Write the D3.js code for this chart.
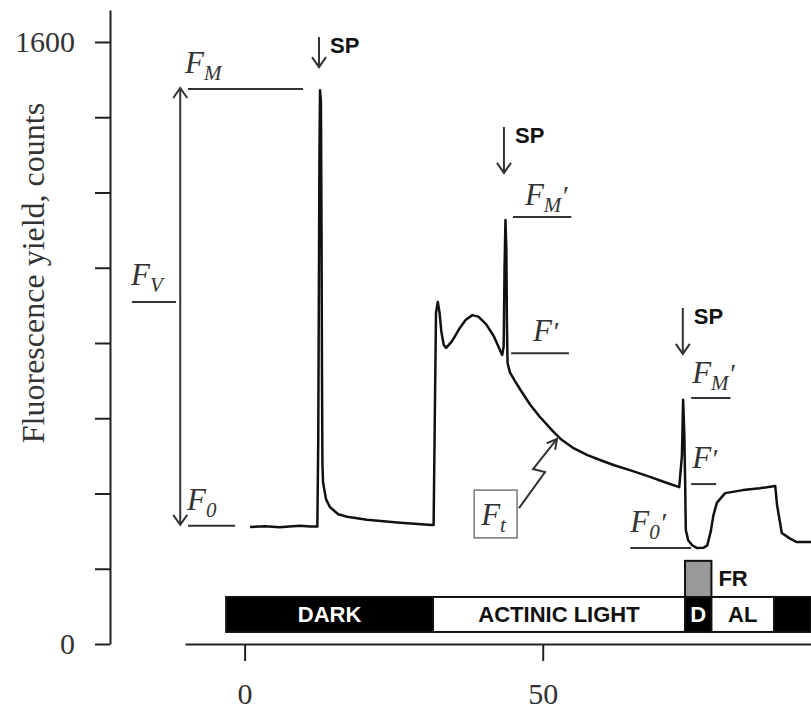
<!DOCTYPE html>
<meta charset="utf-8">
<style>
body { margin: 0; background: #fff; }
.axis path, .axis line { stroke: #222; stroke-width: 2px; }
.axis text { font-family: "Liberation Serif", serif; font-size: 30px; fill: #333; }
.ylab { font-family: "Liberation Serif", serif; font-size: 32px; fill: #333; }
.trace { fill: none; stroke: #111; stroke-width: 2.5px; stroke-linejoin: round; }
.ann line, .ann path { stroke: #333; stroke-width: 2px; fill: none; }
.flab { font-family: "Liberation Serif", serif; font-style: italic; font-size: 31px; fill: #333; }
.sp { font-family: "Liberation Sans", Arial, sans-serif; font-weight: bold; font-size: 22px; fill: #111; }
.bar rect { stroke: #111; stroke-width: 2px; }
.bar text { font-family: "Liberation Sans", Arial, sans-serif; font-weight: bold; font-size: 22px; }
</style>
<svg width="811" height="711"></svg>
<script src="https://d3js.org/d3.v7.min.js"></script>
<script>

// fluorescence trace, time (s) and yield (counts)
var time = [0.9, 3.4, 5.9, 7.5, 9.3, 11.0, 12.2,
  12.35, 12.55, 12.65, 12.8, 12.9, 12.98, 13.05, 13.15, 13.65, 14.3, 15.7, 17.2, 20.5, 26.1, 31.4,
  31.7, 31.9, 32.1, 32.4, 32.7, 33.0, 33.4, 33.8, 34.8, 36.1, 37.1, 38.2, 39.2, 40.5, 41.8, 43.2,
  43.45, 43.6, 43.75, 43.9, 44.0, 44.1, 44.5, 45.3, 46.2, 47.9, 49.5, 51.7, 53.0, 55.0, 57.5, 59.6,
  62.0, 65.0, 68.0, 70.5, 72.9,
  73.35, 73.55, 73.75, 73.9, 74.0, 74.4, 75.1, 75.9, 77.0, 77.6, 78.2, 78.6, 79.2, 80.6, 83.6, 86.4,
  89.0, 89.3, 90.1, 91.5, 92.6, 95.0];
var yieldCounts = [311, 313, 310, 312, 314, 312, 312,
  542, 1300, 1472, 1440, 1100, 700, 480, 430, 385, 364, 345, 338, 330, 322, 316,
  316, 600, 880, 909, 880, 830, 795, 787, 805, 840, 862, 874, 870, 850, 818, 768,
  790, 1000, 1127, 1050, 850, 747, 722, 700, 677, 636, 604, 566, 545, 522, 502, 489,
  475, 460, 444, 430, 417,
  500, 649, 560, 420, 303, 276, 262, 255, 256, 262, 300, 340, 375, 401, 409, 414,
  420, 370, 295, 280, 271, 271];

var yTicks = [0, 200, 400, 600, 800, 1000, 1200, 1400, 1600];
var yLabelled = [0, 1600];
var xTicks = [0, 50];

// light regime bar
var periodStart = [-3.1, 31.6, 73.87, 78.3, 88.8];
var periodEnd = [31.6, 73.87, 78.3, 88.8, 95];
var periodLabel = ["DARK", "ACTINIC LIGHT", "D", "AL", ""];
var periodDark = [true, false, true, false, true];
var barBottom = 32, barTop = 125;
var frStart = 73.87, frEnd = 78.3, frTop = 221;

// annotation levels (counts) and their extents (s)
var levelName = ["FM", "F0", "FV", "FM2", "F2", "FM3", "F3", "F03"];
var levelValue = [1475, 314, 909, 1135, 773, 654, 425, 255];
var levelFrom = [-9.5, -9.5, -18.9, 45.0, 44.7, 74.9, 74.9, 64.7];
var levelTo = [9.8, -1.6, -11.5, 54.8, 54.4, 81.5, 79.1, 74.9];

// saturation pulses: time, arrow top, arrow bottom
var spTime = [12.48, 43.5, 73.5];
var spTop = [1613, 1374, 893];
var spBottom = [1533, 1252, 771];

var svg = d3.select("svg");

var x = d3.scaleLinear().domain([-10, 95]).range([185, 811]);
var y = d3.scaleLinear().domain([0, 1685]).range([644, 10]);

svg.append("g")
    .attr("class", "axis")
    .attr("transform", "translate(110,0)")
    .call(d3.axisLeft(y).tickValues(yTicks).tickSize(15).tickSizeOuter(0).tickPadding(20)
      .tickFormat(function(d) { return yLabelled.indexOf(d) >= 0 ? d : ""; }));

svg.append("g")
    .attr("class", "axis")
    .attr("transform", "translate(0,644)")
    .call(d3.axisBottom(x).tickValues(xTicks).tickSize(17).tickSizeOuter(0).tickPadding(22));

svg.append("text")
    .attr("class", "ylab")
    .attr("transform", "translate(44,273) rotate(-90)")
    .attr("text-anchor", "middle")
    .text("Fluorescence yield, counts");

// bar of light periods
var bar = svg.append("g").attr("class", "bar");
var periods = d3.range(periodStart.length).map(function(i) {
  return {s: periodStart[i], e: periodEnd[i], label: periodLabel[i], dark: periodDark[i]};
});
bar.selectAll("rect.p").data(periods).enter().append("rect")
    .attr("class", "p")
    .attr("x", function(d) { return x(d.s); })
    .attr("width", function(d) { return x(d.e) - x(d.s); })
    .attr("y", y(barTop))
    .attr("height", y(barBottom) - y(barTop))
    .attr("fill", function(d) { return d.dark ? "#000" : "#fff"; });
bar.selectAll("text.p").data(periods).enter().append("text")
    .attr("class", "p")
    .attr("x", function(d) { return (x(d.s) + x(d.e)) / 2; })
    .attr("y", (y(barTop) + y(barBottom)) / 2 + 8)
    .attr("text-anchor", "middle")
    .attr("fill", function(d) { return d.dark ? "#fff" : "#111"; })
    .text(function(d) { return d.label; });
bar.append("rect")
    .attr("x", x(frStart))
    .attr("width", x(frEnd) - x(frStart))
    .attr("y", y(frTop))
    .attr("height", y(barTop) - y(frTop))
    .attr("fill", "#999");
bar.append("text")
    .attr("x", x(frEnd) + 7)
    .attr("y", y(frTop) + 25)
    .attr("text-anchor", "start")
    .attr("fill", "#111")
    .text("FR");

// trace
var line = d3.line()
    .x(function(d) { return x(d[0]); })
    .y(function(d) { return y(d[1]); });
svg.append("path")
    .datum(d3.zip(time, yieldCounts))
    .attr("class", "trace")
    .attr("d", line);

// annotations
var ann = svg.append("g").attr("class", "ann");

levelName.forEach(function(n, i) {
  ann.append("line")
      .attr("x1", x(levelFrom[i])).attr("x2", x(levelTo[i]))
      .attr("y1", y(levelValue[i])).attr("y2", y(levelValue[i]));
});

function head(px, py, dir) {
  // open V arrowhead, dir = 1 points down, -1 points up
  ann.append("path")
      .attr("d", "M" + (px - 7) + "," + (py - 10 * dir) + "L" + px + "," + py + "L" + (px + 7) + "," + (py - 10 * dir));
}

// F_V double arrow
var vx = x(-10.8);
ann.append("line").attr("x1", vx).attr("x2", vx).attr("y1", y(levelValue[0]) + 1).attr("y2", y(levelValue[1]) - 1);
head(vx, y(levelValue[0]) - 1, -1);
head(vx, y(levelValue[1]) - 1, 1);

spTime.forEach(function(t, i) {
  var px = x(t);
  ann.append("line").attr("x1", px).attr("x2", px).attr("y1", y(spTop[i])).attr("y2", y(spBottom[i]));
  head(px, y(spBottom[i]), 1);
  svg.append("text").attr("class", "sp")
      .attr("x", px + 11).attr("y", y(spTop[i]) + 16)
      .text("SP");
});

function fLabel(px, py, sub, prime) {
  var t = svg.append("text").attr("class", "flab").attr("x", px).attr("y", py);
  t.append("tspan").text("F");
  if (sub) t.append("tspan").attr("font-size", 21).attr("dy", 7).text(sub);
  if (prime) t.append("tspan").attr("font-size", 28).attr("dy", sub ? -7 : 0).text("\u2032");
}

function lx(i) { return x(levelFrom[i]); }
function ly(i) { return y(levelValue[i]); }

fLabel(lx(0) - 3, ly(0) - 16, "M", false);
fLabel(lx(1) - 1, ly(1) - 16, "0", false);
fLabel(lx(2) - 1, ly(2) - 17, "V", false);
fLabel(lx(3) + 12, ly(3) - 12, "M", true);
fLabel(lx(4) + 22, ly(4) - 12, null, true);
fLabel(lx(5) + 1, ly(5) - 15, "M", true);
fLabel(lx(6) + 1, ly(6) - 16, null, true);
fLabel(lx(7), ly(7) - 16, "0", true);

// F_t box with zigzag arrow
var boxT0 = 38.5, boxT1 = 45.7, boxC0 = 282, boxC1 = 409;
ann.append("rect")
    .attr("x", x(boxT0)).attr("y", y(boxC1))
    .attr("width", x(boxT1) - x(boxT0)).attr("height", y(boxC0) - y(boxC1))
    .attr("fill", "#fff").attr("stroke", "#777").attr("stroke-width", 1.5);
fLabel(x(boxT0) + 7, y(boxC0) - 13, "t", false);

var zig = [[46.03, 361], [50.39, 457], [48.38, 465], [52.4, 545]];
ann.append("path")
    .attr("d", d3.line().x(function(d) { return x(d[0]); }).y(function(d) { return y(d[1]); })(zig));
var tip = [x(52.4), y(545)], prev = [x(48.38), y(465)];
var ang = Math.atan2(tip[1] - prev[1], tip[0] - prev[0]);
var hl = 11, ha = 0.5;
ann.append("path")
    .attr("d", "M" + (tip[0] - hl * Math.cos(ang - ha)) + "," + (tip[1] - hl * Math.sin(ang - ha)) +
      "L" + tip[0] + "," + tip[1] +
      "L" + (tip[0] - hl * Math.cos(ang + ha)) + "," + (tip[1] - hl * Math.sin(ang + ha)));

</script>
